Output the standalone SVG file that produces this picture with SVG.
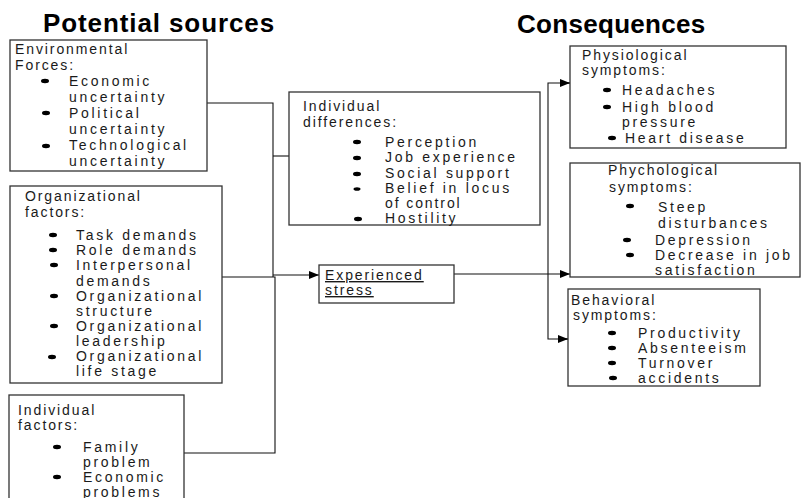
<svg xmlns="http://www.w3.org/2000/svg" width="802" height="498" viewBox="0 0 802 498">
<defs>
<marker id="arr" markerWidth="10" markerHeight="10" refX="10" refY="5" orient="auto" markerUnits="userSpaceOnUse">
<path d="M0,1 L10,5 L0,9 Z" fill="#000"/>
</marker>
<style>
.box{fill:#fff;stroke:#333;stroke-width:1.3}
.t{font-family:"Liberation Sans",Arial,sans-serif;font-size:14px;fill:#1a1a1a}
.h{letter-spacing:1.9px}
.i{letter-spacing:2.7px}
.title{font-family:"Liberation Sans",Arial,sans-serif;font-size:26px;font-weight:bold;fill:#000}
.b{fill:#000}
.c{fill:none;stroke:#111;stroke-width:1.1}
</style>
</defs>
<rect width="802" height="498" fill="#fff"/>
<text class="title" x="43" y="32" letter-spacing="0.9">Potential sources</text>
<text class="title" x="517" y="33" letter-spacing="0.3">Consequences</text>

<g id="connectors">
<path class="c" d="M207,103 H273 V277"/>
<path class="c" d="M273,156 H289"/>
<path class="c" d="M222,277 H275 V453 H184"/>
<path class="c" d="M273,275 H319" marker-end="url(#arr)"/>
<path class="c" d="M454,274 H570" marker-end="url(#arr)"/>
<path class="c" d="M570,83 H548 V339 H568" />
<path class="c" d="M560,83 H570" marker-end="url(#arr)"/>
<path class="c" d="M558,339 H568" marker-end="url(#arr)"/>
</g>

<g id="environmental">
<rect class="box" x="10" y="40" width="197" height="131"/>
<text class="t h" x="15" y="53.5">Environmental</text>
<text class="t h" x="15" y="69.5">Forces:</text>
<ellipse class="b" cx="45" cy="81" rx="4" ry="2.2"/>
<text class="t i" x="69" y="85.5">Economic</text>
<text class="t i" x="69" y="101.5">uncertainty</text>
<ellipse class="b" cx="46" cy="113" rx="4" ry="2.2"/>
<text class="t i" x="69" y="117.5">Political</text>
<text class="t i" x="69" y="133.5">uncertainty</text>
<ellipse class="b" cx="46" cy="146" rx="4" ry="2.2"/>
<text class="t i" x="69" y="149.5">Technological</text>
<text class="t i" x="69" y="165.5">uncertainty</text>
</g>

<g id="organizational">
<rect class="box" x="10" y="186" width="212" height="197"/>
<text class="t h" x="25" y="200.5">Organizational</text>
<text class="t h" x="25" y="216.5">factors:</text>
<ellipse class="b" cx="53" cy="235" rx="4" ry="2.2"/>
<text class="t i" x="76" y="240">Task demands</text>
<ellipse class="b" cx="53" cy="250" rx="4" ry="2.2"/>
<text class="t i" x="76" y="255">Role demands</text>
<ellipse class="b" cx="54" cy="265" rx="4" ry="2.2"/>
<text class="t i" x="76" y="270">Interpersonal</text>
<text class="t i" x="76" y="285.5">demands</text>
<ellipse class="b" cx="54" cy="296" rx="4" ry="2.2"/>
<text class="t i" x="76" y="300.5">Organizational</text>
<text class="t i" x="76" y="315.5">structure</text>
<ellipse class="b" cx="54" cy="326" rx="4" ry="2.2"/>
<text class="t i" x="76" y="330.5">Organizational</text>
<text class="t i" x="76" y="345.5">leadership</text>
<ellipse class="b" cx="52" cy="357" rx="4" ry="2.2"/>
<text class="t i" x="76" y="361">Organizational</text>
<text class="t i" x="76" y="376">life stage</text>
</g>

<g id="individual-factors">
<rect class="box" x="9" y="395" width="175" height="110"/>
<text class="t h" x="18" y="415">Individual</text>
<text class="t h" x="18" y="430">factors:</text>
<ellipse class="b" cx="57" cy="447" rx="4" ry="2.2"/>
<text class="t i" x="83" y="451.5">Family</text>
<text class="t i" x="83" y="466.5">problem</text>
<ellipse class="b" cx="57" cy="477" rx="4" ry="2.2"/>
<text class="t i" x="83" y="481.5">Economic</text>
<text class="t i" x="83" y="496.5">problems</text>
</g>

<g id="individual-differences">
<rect class="box" x="289" y="92" width="251" height="133"/>
<text class="t h" x="303" y="110.5">Individual</text>
<text class="t h" x="303" y="126.5">differences:</text>
<ellipse class="b" cx="357" cy="142" rx="4" ry="2.2"/>
<text class="t i" x="385" y="146.5">Perception</text>
<ellipse class="b" cx="357" cy="158" rx="4" ry="2.2"/>
<text class="t i" x="385" y="161.5">Job experience</text>
<ellipse class="b" cx="357" cy="174" rx="4" ry="2.2"/>
<text class="t i" x="385" y="177.5">Social support</text>
<ellipse class="b" cx="357" cy="189" rx="3.5" ry="1.8"/>
<text class="t i" x="385" y="193">Belief in locus</text>
<text class="t h" x="385" y="208">of control</text>
<ellipse class="b" cx="358" cy="219" rx="4" ry="2.2"/>
<text class="t i" x="385" y="223">Hostility</text>
</g>

<g id="experienced-stress">
<rect class="box" x="319" y="265" width="135" height="38"/>
<text class="t h" x="325" y="280" text-decoration="underline">Experienced</text>
<text class="t h" x="325" y="295" text-decoration="underline">stress</text>
</g>

<g id="physiological">
<rect class="box" x="570" y="46" width="216" height="102"/>
<text class="t h" x="582" y="60">Physiological</text>
<text class="t h" x="582" y="75">symptoms:</text>
<ellipse class="b" cx="607" cy="90" rx="4" ry="2.2"/>
<text class="t i" x="622" y="95">Headaches</text>
<ellipse class="b" cx="607" cy="107" rx="4" ry="2.2"/>
<text class="t i" x="622" y="111.5">High blood</text>
<text class="t i" x="622" y="126.5">pressure</text>
<ellipse class="b" cx="612" cy="138" rx="4" ry="2.2"/>
<text class="t i" x="625" y="143">Heart disease</text>
</g>

<g id="psychological">
<rect class="box" x="570" y="163" width="230" height="114"/>
<text class="t h" x="608" y="175">Phychological</text>
<text class="t h" x="609" y="191.5">symptoms:</text>
<ellipse class="b" cx="630" cy="206" rx="4" ry="2.2"/>
<text class="t i" x="658" y="211.5">Steep</text>
<text class="t i" x="658" y="228">disturbances</text>
<ellipse class="b" cx="627" cy="240" rx="4" ry="2.2"/>
<text class="t i" x="655" y="245">Depression</text>
<ellipse class="b" cx="630" cy="255" rx="4" ry="2.2"/>
<text class="t i" x="655" y="260">Decrease in job</text>
<text class="t i" x="655" y="275">satisfaction</text>
</g>

<g id="behavioral">
<rect class="box" x="568" y="289" width="192" height="97"/>
<text class="t h" x="571" y="305">Behavioral</text>
<text class="t h" x="573" y="320">symptoms:</text>
<ellipse class="b" cx="612" cy="333" rx="4" ry="2.2"/>
<text class="t i" x="638" y="338">Productivity</text>
<ellipse class="b" cx="612" cy="348" rx="4" ry="2.2"/>
<text class="t i" x="638" y="353">Absenteeism</text>
<ellipse class="b" cx="612" cy="363" rx="4" ry="2.2"/>
<text class="t i" x="638" y="368">Turnover</text>
<ellipse class="b" cx="613" cy="378" rx="4" ry="2.2"/>
<text class="t i" x="638" y="383">accidents</text>
</g>
</svg>
